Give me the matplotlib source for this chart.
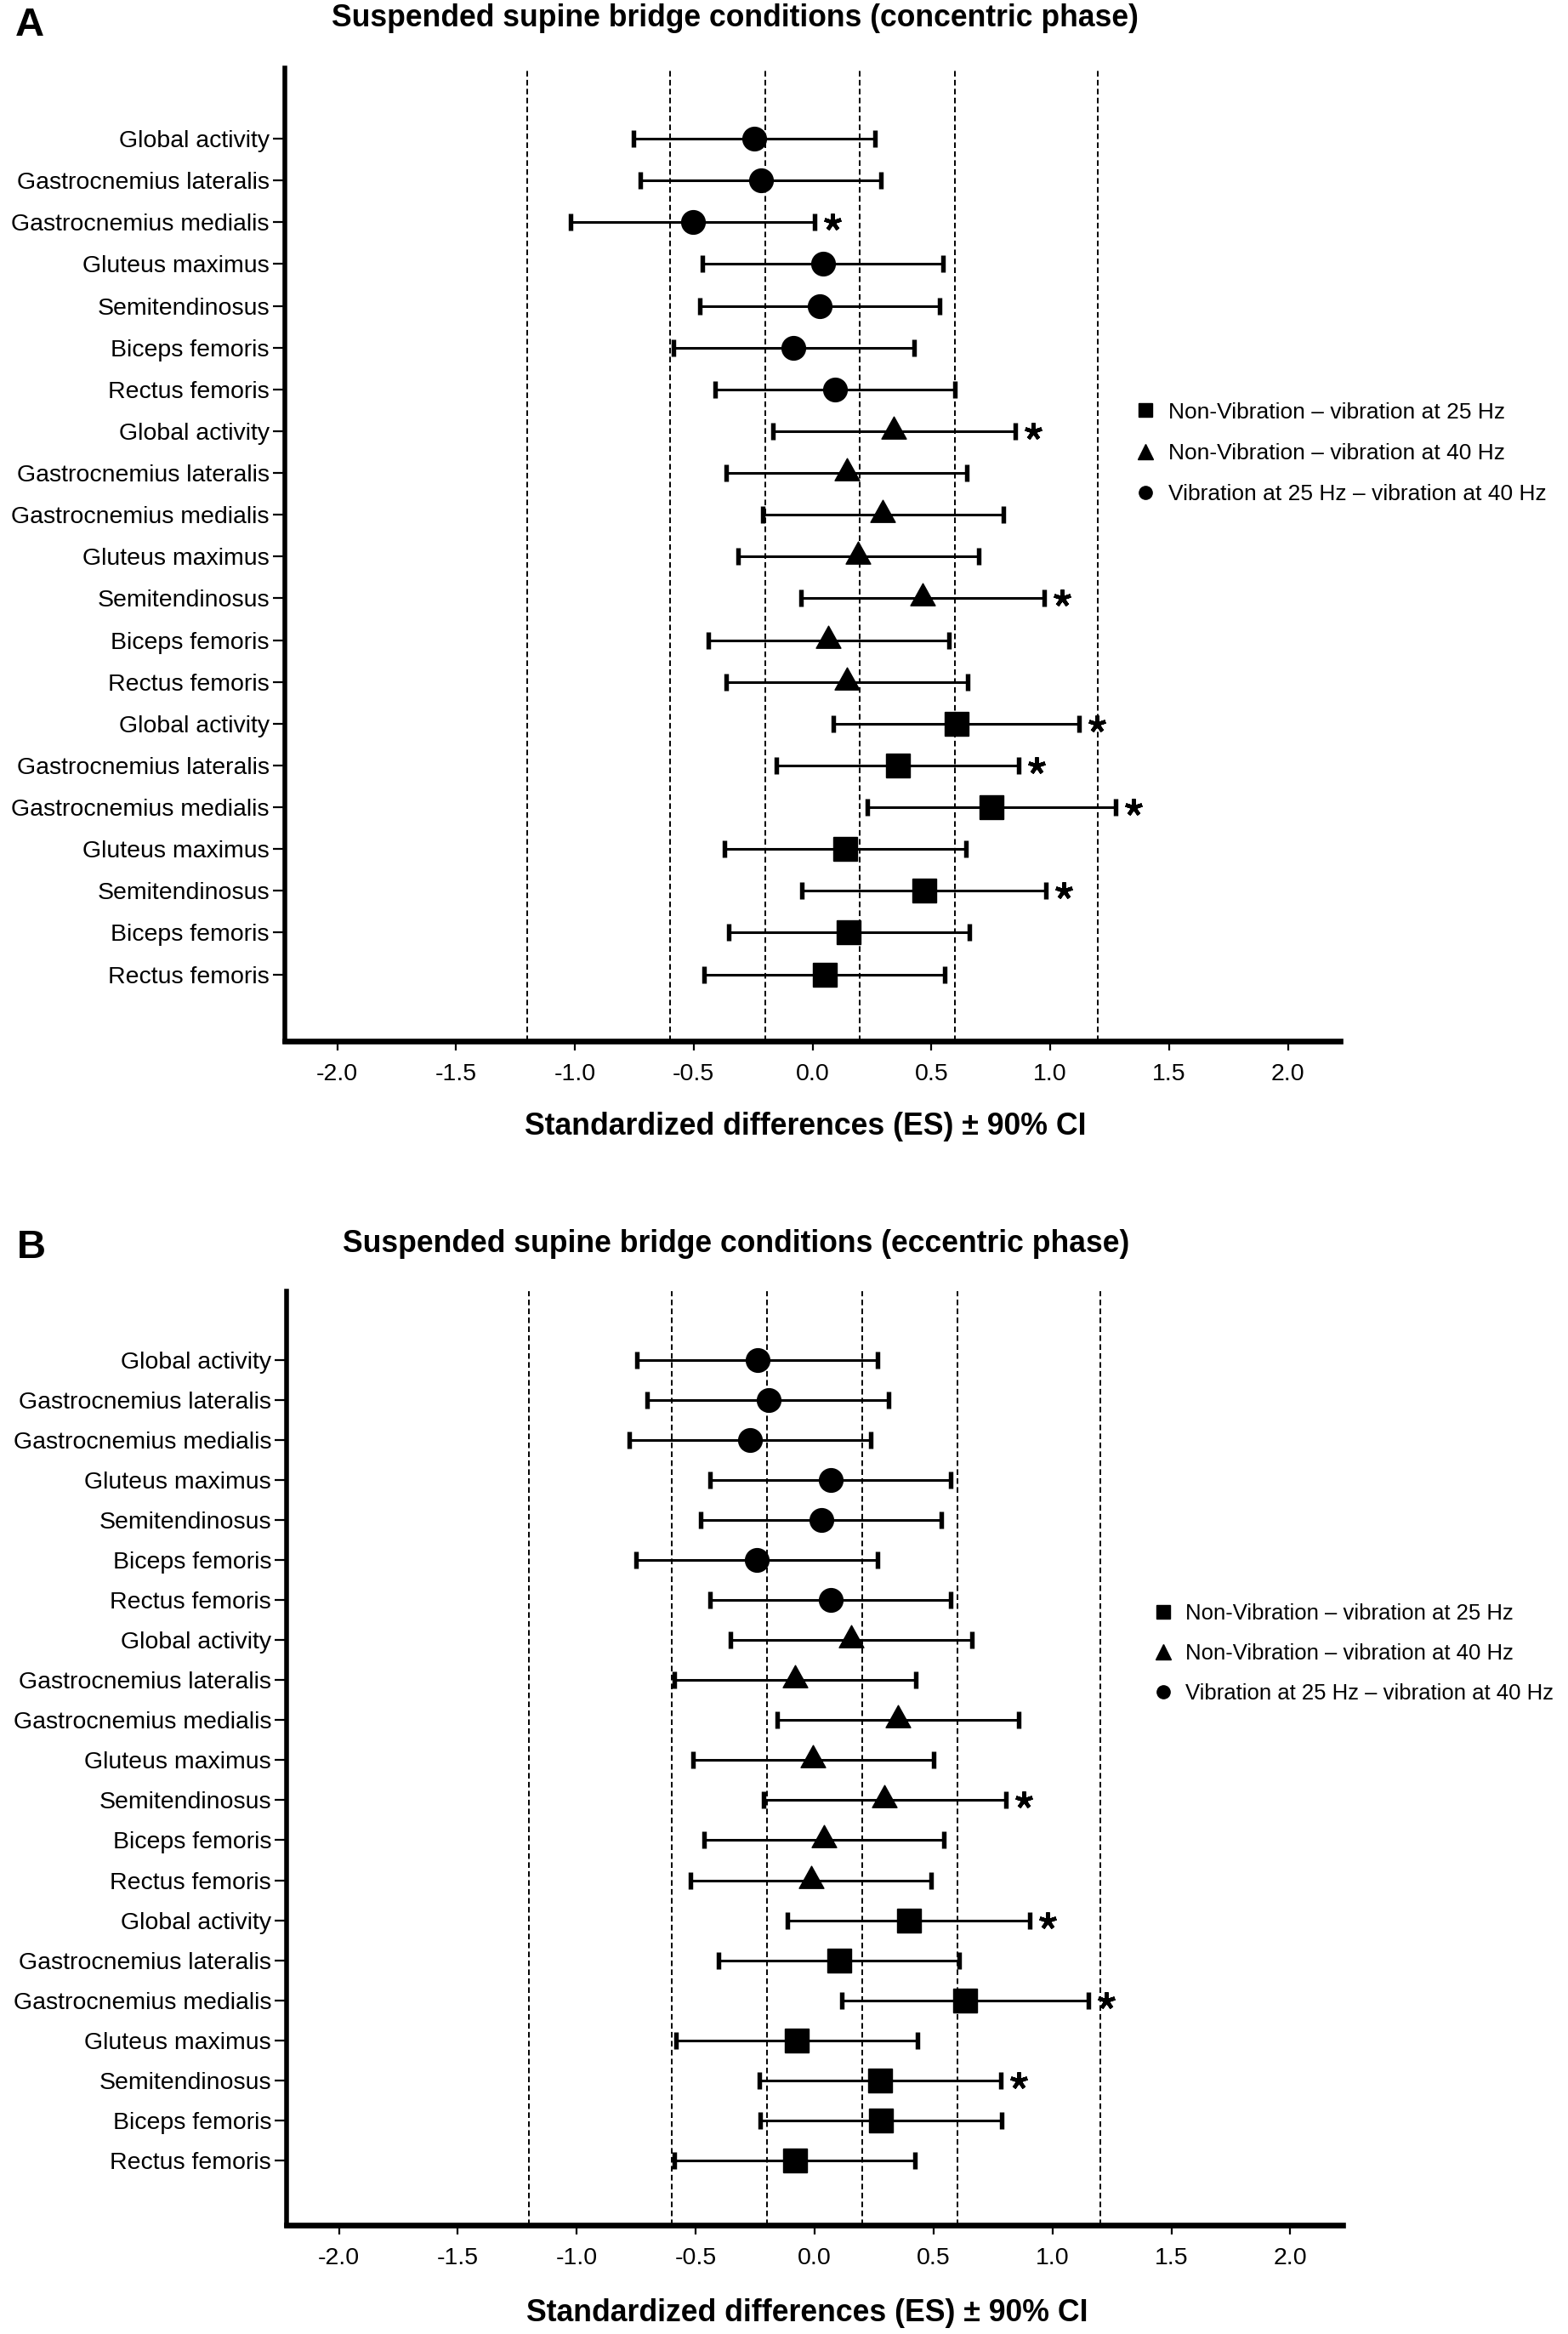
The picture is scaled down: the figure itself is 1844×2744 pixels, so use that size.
import numpy as np
import matplotlib
matplotlib.use("Agg")
import matplotlib.pyplot as plt
from matplotlib.lines import Line2D
from matplotlib.path import Path
from matplotlib.transforms import ScaledTranslation

plt.rcParams['font.family'] = ['Liberation Sans', 'DejaVu Sans']

# ---------------- data ----------------
muscles = ["Global activity", "Gastrocnemius lateralis", "Gastrocnemius medialis",
           "Gluteus maximus", "Semitendinosus", "Biceps femoris", "Rectus femoris"]

legend_labels = ["Non-Vibration \u2013 vibration at 25 Hz",
                 "Non-Vibration \u2013 vibration at 40 Hz",
                 "Vibration at 25 Hz \u2013 vibration at 40 Hz"]

x_ticks = [-2.0, -1.5, -1.0, -0.5, 0.0, 0.5, 1.0, 1.5, 2.0]
x_tick_labels = ["-2.0", "-1.5", "-1.0", "-0.5", "0.0", "0.5", "1.0", "1.5", "2.0"]
thresholds = [-1.2, -0.6, -0.2, 0.2, 0.6, 1.2]

# Panel A: concentric phase
conc_v25_v40_es = [-0.245, -0.216, -0.504, 0.044, 0.031, -0.079, 0.095]
conc_v25_v40_lo = [-0.753, -0.724, -1.018, -0.465, -0.474, -0.586, -0.410]
conc_v25_v40_hi = [0.264, 0.288, 0.010, 0.549, 0.536, 0.426, 0.600]
conc_v25_v40_sig = [0, 0, 1, 0, 0, 0, 0]

conc_nv_v40_es = [0.342, 0.143, 0.296, 0.192, 0.463, 0.066, 0.146]
conc_nv_v40_lo = [-0.165, -0.364, -0.211, -0.313, -0.049, -0.439, -0.362]
conc_nv_v40_hi = [0.852, 0.649, 0.804, 0.700, 0.976, 0.575, 0.651]
conc_nv_v40_sig = [1, 0, 0, 0, 1, 0, 0]

conc_nv_v25_es = [0.605, 0.358, 0.753, 0.139, 0.469, 0.151, 0.050]
conc_nv_v25_lo = [0.087, -0.152, 0.229, -0.369, -0.045, -0.353, -0.457]
conc_nv_v25_hi = [1.121, 0.868, 1.274, 0.645, 0.981, 0.661, 0.555]
conc_nv_v25_sig = [1, 1, 1, 0, 1, 0, 0]

# Panel B: eccentric phase
ecc_v25_v40_es = [-0.240, -0.195, -0.272, 0.067, 0.028, -0.245, 0.067]
ecc_v25_v40_lo = [-0.748, -0.703, -0.781, -0.439, -0.480, -0.752, -0.439]
ecc_v25_v40_hi = [0.266, 0.312, 0.234, 0.572, 0.534, 0.263, 0.572]
ecc_v25_v40_sig = [0, 0, 0, 0, 0, 0, 0]

ecc_nv_v40_es = [0.152, -0.084, 0.351, -0.006, 0.293, 0.040, -0.015]
ecc_nv_v40_lo = [-0.353, -0.590, -0.159, -0.512, -0.214, -0.466, -0.522]
ecc_nv_v40_hi = [0.660, 0.425, 0.859, 0.500, 0.803, 0.545, 0.489]
ecc_nv_v40_sig = [0, 0, 0, 0, 1, 0, 0]

ecc_nv_v25_es = [0.397, 0.102, 0.633, -0.074, 0.276, 0.279, -0.084]
ecc_nv_v25_lo = [-0.114, -0.404, 0.115, -0.584, -0.232, -0.229, -0.590]
ecc_nv_v25_hi = [0.905, 0.609, 1.151, 0.432, 0.784, 0.787, 0.422]
ecc_nv_v25_sig = [1, 0, 1, 0, 1, 0, 0]

# ---------------- styling ----------------
tri = Path([(-1.0, -0.6), (1.0, -0.6), (0.0, 1.2), (-1.0, -0.6)],
           [Path.MOVETO, Path.LINETO, Path.LINETO, Path.CLOSEPOLY])
marker_style = {"circle": ("o", 20), "triangle": (tri, 25), "square": ("s", 20)}

fig = plt.figure(figsize=(18.44, 27.44), dpi=100)

panels = [
    dict(rect=[0.1817, 0.5539, 0.673, 0.4171], ylim=(21.6, -1.7),
         title="Suspended supine bridge conditions (concentric phase)",
         letter="A", title_xy=(0.469, 0.9920), letter_xy=(0.019, 0.9890),
         xlabel_xy=(0.5136, 0.5172), legend_xy=(0.807, 0.604), legend_fs=19,
         legend_sp=0.92,
         groups=[("circle", conc_v25_v40_es, conc_v25_v40_lo, conc_v25_v40_hi, conc_v25_v40_sig),
                 ("triangle", conc_nv_v40_es, conc_nv_v40_lo, conc_nv_v40_hi, conc_nv_v40_sig),
                 ("square", conc_nv_v25_es, conc_nv_v25_lo, conc_nv_v25_hi, conc_nv_v25_sig)]),
    dict(rect=[0.1828, 0.04665, 0.6735, 0.4001], ylim=(21.62, -1.72),
         title="Suspended supine bridge conditions (eccentric phase)",
         letter="B", title_xy=(0.4696, 0.4672), letter_xy=(0.020, 0.4654),
         xlabel_xy=(0.5146, 0.0091), legend_xy=(0.822, 0.612), legend_fs=18.5,
         legend_sp=0.88,
         groups=[("circle", ecc_v25_v40_es, ecc_v25_v40_lo, ecc_v25_v40_hi, ecc_v25_v40_sig),
                 ("triangle", ecc_nv_v40_es, ecc_nv_v40_lo, ecc_nv_v40_hi, ecc_nv_v40_sig),
                 ("square", ecc_nv_v25_es, ecc_nv_v25_lo, ecc_nv_v25_hi, ecc_nv_v25_sig)]),
]

star_offset = ScaledTranslation(0.21, 0.0, fig.dpi_scale_trans)

for p in panels:
    ax = fig.add_axes(p["rect"])
    ax.set_xlim(-2.22, 2.22)
    ax.set_ylim(*p["ylim"])

    for t in thresholds:
        ax.axvline(t, color="black", linewidth=1.4, linestyle=(0, (3.4, 2.0)), zorder=1)

    ylabels = []
    for g, (kind, es, lo, hi, sig) in enumerate(p["groups"]):
        es = np.asarray(es); lo = np.asarray(lo); hi = np.asarray(hi)
        y = g * len(muscles) + np.arange(len(muscles))
        m, ms = marker_style[kind]
        ax.errorbar(es, y, xerr=[es - lo, hi - es], fmt="none", ecolor="black",
                    elinewidth=2.2, capsize=7.5, capthick=3.9, zorder=2)
        ax.plot(es, y, linestyle="none", marker=m, markersize=ms, color="black", zorder=3)
        sig = np.asarray(sig, dtype=bool)
        ax.plot(hi[sig], y[sig], linestyle="none", marker=(5, 2, 0), markersize=14.5,
                markeredgewidth=3.2, color="black", zorder=3,
                transform=ax.transData + star_offset)
        ylabels += muscles

    ax.set_yticks(np.arange(len(ylabels)))
    ax.set_yticklabels(ylabels, fontsize=20.5)
    ax.set_xticks(x_ticks)
    ax.set_xticklabels(x_tick_labels, fontsize=20.5)
    ax.tick_params(axis="y", length=10, width=1.6, pad=3, direction="out")
    ax.tick_params(axis="x", length=8, width=1.6, pad=11, direction="out")

    for s in ("top", "right"):
        ax.spines[s].set_visible(False)
    ax.spines["left"].set_linewidth(4.0)
    ax.spines["bottom"].set_linewidth(4.8)

    handles = [Line2D([], [], linestyle="none", marker="s", markersize=11, color="black"),
               Line2D([], [], linestyle="none", marker="^", markersize=13, color="black"),
               Line2D([], [], linestyle="none", marker="o", markersize=11, color="black")]
    ax.legend(handles, legend_labels, loc="center left", bbox_to_anchor=p["legend_xy"],
              frameon=False, fontsize=p["legend_fs"], borderaxespad=0, borderpad=0,
              handlelength=0.8, handletextpad=0.62, labelspacing=p["legend_sp"])

    fig.text(*p["title_xy"], p["title"], ha="center", va="center",
             fontsize=25.6, fontweight="bold")
    fig.text(*p["letter_xy"], p["letter"], ha="center", va="center",
             fontsize=34, fontweight="bold")
    fig.text(*p["xlabel_xy"], "Standardized differences (ES) \u00b1 90% CI",
             ha="center", va="center", fontsize=25.7, fontweight="bold")

fig.savefig("out.png", dpi=100)
